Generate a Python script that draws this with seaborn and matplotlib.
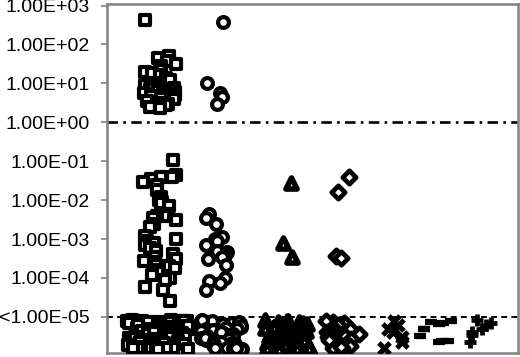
import numpy as np
import matplotlib
matplotlib.use("Agg")
import matplotlib.pyplot as plt
import seaborn as sns

squares_hi = [430, 50, 45, 38, 32, 28, 22, 20, 18, 16, 14, 12, 10, 9, 8, 7.5, 7, 6.5,
              6, 5.5, 5.2, 5, 4.6, 4.2, 4, 3.6, 3.2, 3, 2.8, 2.5, 2.4, 2.3]
squares_lo = [0.11, 0.045, 0.04, 0.04, 0.035, 0.03, 0.025, 0.018, 0.012, 0.01, 0.009,
              0.0085, 0.007, 0.0045, 0.004, 0.004, 0.0035, 0.003, 0.0025, 0.002, 0.0012,
              0.001, 0.0009, 0.0008, 0.0007, 0.0006, 0.0005, 0.0004, 0.00035, 0.0003,
              0.00028, 0.00025, 0.00022, 0.0002, 0.00018, 0.00016, 0.00014, 0.00012,
              0.0001, 9e-5, 6e-5, 5e-5, 2.6e-5]
circles_hi = [380, 10, 5.8, 4.5, 3.0]
circles_lo = [0.0043, 0.0035, 0.0024, 0.0011, 0.001, 0.0009, 0.0007, 0.0005, 0.00045,
              0.00038, 0.00035, 0.0003, 0.00022, 0.0001, 8.5e-5, 7.5e-5, 5e-5]
triangles_det = [0.028, 0.0008, 0.00035]
diamonds_det = [0.04, 0.016, 0.00037, 0.00032]

# values below the detection limit, drawn under the <1.00E-05 line
squares_nd = [8e-6, 7.5e-6, 7e-6, 6.5e-6, 8e-6, 7.2e-6, 6.8e-6, 7.8e-6, 8.2e-6, 7.4e-6,
              6.2e-6, 7.6e-6, 7.9e-6, 7.1e-6, 8.1e-6, 6.9e-6, 7.7e-6, 7.3e-6,
              5.8e-6, 5.2e-6, 4.8e-6, 5.5e-6, 5e-6, 4.6e-6, 5.6e-6, 5.3e-6,
              4.9e-6, 5.1e-6, 4.4e-6, 5.9e-6, 5.4e-6, 4.7e-6, 5.7e-6, 6.1e-6,
              4.2e-6, 3.8e-6, 3.5e-6, 4e-6, 3.6e-6, 3.3e-6,
              3.9e-6, 3.4e-6, 3.7e-6, 4.1e-6, 3.2e-6, 3.1e-6, 4.3e-6, 3.5e-6,
              3e-6, 2.8e-6, 2.6e-6, 2.9e-6, 2.5e-6, 2.7e-6, 2.4e-6, 2.9e-6, 2.6e-6, 2.3e-6,
              2.8e-6, 2.5e-6, 2.7e-6, 3e-6, 2.4e-6, 2.2e-6, 2e-6,
              1.9e-6, 2.1e-6, 1.8e-6, 2e-6, 1.7e-6, 2.1e-6, 1.9e-6, 1.8e-6, 2.2e-6, 1.7e-6,
              2e-6, 1.9e-6, 2.1e-6, 1.6e-6, 1.5e-6, 1.6e-6, 1.5e-6, 1.6e-6, 1.5e-6,
              1.6e-6, 1.5e-6, 1.55e-6, 1.5e-6, 1.6e-6, 1.55e-6]
circles_nd = [7.5e-6, 7e-6, 8e-6, 6.5e-6, 7.8e-6, 6.8e-6, 7.2e-6, 8.1e-6, 5.5e-6, 5e-6,
              4.6e-6, 5.2e-6, 5.8e-6, 4.9e-6, 4.2e-6, 3.8e-6, 3.5e-6, 4e-6, 3.6e-6,
              3.2e-6, 3e-6, 2.8e-6, 2.6e-6, 2.9e-6, 2.4e-6, 2.7e-6, 2.2e-6, 2e-6, 1.9e-6,
              2.1e-6, 1.8e-6, 2e-6, 1.6e-6, 1.5e-6, 1.6e-6, 1.5e-6, 1.6e-6, 1.55e-6]
triangles_nd = [8e-6, 7.5e-6, 7e-6, 8.2e-6, 7.3e-6, 6.6e-6, 7.8e-6, 7.1e-6, 6e-6, 5.5e-6,
                5e-6, 5.8e-6, 4.6e-6, 5.2e-6, 4.8e-6, 5.4e-6, 4.2e-6, 3.8e-6, 4e-6,
                3.5e-6, 3.6e-6, 3.3e-6, 3.9e-6, 3e-6, 2.8e-6, 2.9e-6, 2.6e-6, 2.7e-6,
                2.4e-6, 2.3e-6, 2.5e-6, 2.2e-6, 2e-6, 2.1e-6, 1.9e-6, 1.8e-6, 2e-6,
                1.7e-6, 1.9e-6, 1.6e-6, 1.5e-6, 1.6e-6, 1.5e-6, 1.6e-6, 1.5e-6, 1.55e-6]
diamonds_nd = [7.5e-6, 7e-6, 6.5e-6, 7.8e-6, 6e-6, 5.2e-6, 4.8e-6, 4.4e-6, 4e-6, 3.6e-6,
               3.3e-6, 3e-6, 2.7e-6, 2.4e-6, 2.2e-6, 2e-6, 1.8e-6, 1.6e-6, 1.55e-6,
               1.7e-6, 2.6e-6]
crosses_nd = [8e-6, 6e-6, 5e-6, 4e-6, 3e-6, 2.2e-6, 1.6e-6]
dashes_nd = [7.5e-6, 8e-6, 7e-6, 6.5e-6, 5e-6, 4.8e-6, 3.3e-6, 2.4e-6, 2.3e-6, 2.4e-6]
pluses_nd = [8.5e-6, 7e-6, 6e-6, 5e-6, 4e-6, 3.5e-6, 2.3e-6]

ytick_values = [1e3, 1e2, 1e1, 1e0, 1e-1, 1e-2, 1e-3, 1e-4, 1e-5]
ytick_labels = ["1.00E+03", "1.00E+02", "1.00E+01", "1.00E+00", "1.00E-01",
                "1.00E-02", "1.00E-03", "1.00E-04", "<1.00E-05"]

sns.set_style("white")
plt.rcParams["font.family"] = ["Liberation Sans", "DejaVu Sans"]

fig = plt.figure(figsize=(5.2, 3.57), dpi=100)
ax = fig.add_axes([107 / 520, 4 / 357, 411 / 520, 349 / 357])

# (values, centre, jitter, seed, marker style)
open_mk = dict(color="white", edgecolor="black")
line_mk = dict(color="black")
sq = dict(marker="s", size=7.2, linewidth=3.0, **open_mk)
ci = dict(marker="o", size=7.8, linewidth=3.0, **open_mk)
tr = dict(marker="^", size=8, linewidth=4.0, **open_mk)
di = dict(marker="D", size=6.8, linewidth=3.4, **open_mk)
layers = [
    (squares_hi, 0.0, 0.32, 7, sq),
    (squares_lo, 0.0, 0.32, 8, sq),
    (squares_nd, -0.03, 0.6, 9, sq),
    (circles_hi, 1.07, 0.2, 10, ci),
    (circles_lo, 1.07, 0.22, 11, ci),
    (circles_nd, 1.16, 0.4, 12, ci),
    (triangles_det, 2.38, 0.15, 13, tr),
    (triangles_nd, 2.38, 0.42, 14, tr),
    (diamonds_det, 3.43, 0.15, 15, di),
    (diamonds_nd, 3.43, 0.34, 16, di),
    (crosses_nd, 4.37, 0.22, 3, dict(marker="x", size=8, linewidth=3.6, **line_mk)),
    (dashes_nd, 5.16, 0.32, 42, dict(marker="_", size=8.5, linewidth=4.5, **line_mk)),
    (pluses_nd, 6.0, 0.22, 42, dict(marker="+", size=8, linewidth=3.4, **line_mk)),
]
for vals, centre, jit, seed, style in layers:
    np.random.seed(seed)
    sns.stripplot(x=[centre] * len(vals), y=vals, native_scale=True, orient="x",
                  jitter=jit, ax=ax, zorder=3, **style)

ax.set_yscale("log")
ax.axhline(1.0, color="black", lw=1.9, ls=(0, (4, 2, 1, 2)), zorder=2)
ax.axhline(1e-5, color="black", lw=1.4, ls=(0, (3, 2.2)), zorder=2)

ax.set_xlim(-0.99, 6.71)
ax.set_ylim(10 ** (-5.93), 10 ** 3.04)
ax.set_yticks(ytick_values)
ax.set_yticklabels(ytick_labels)
ax.minorticks_off()
ax.set_xticks([])
ax.tick_params(axis="y", left=True, length=4.5, width=1.2, color="#808080",
               pad=8, labelsize=14, labelcolor="black")
for sp in ax.spines.values():
    sp.set_visible(True)
    sp.set_color("#808080")
    sp.set_linewidth(1.8)
ax.set_xlabel("")
ax.set_ylabel("")

fig.savefig("out.png", dpi=100)
